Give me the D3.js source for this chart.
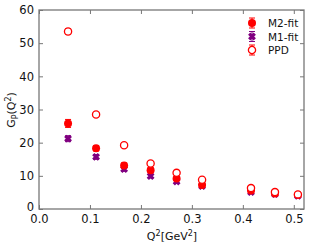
<!DOCTYPE html>
<html>
<head>
<meta charset="utf-8">
<script src="https://cdn.jsdelivr.net/npm/d3@7"></script>
<style>
  body { margin: 0; background: #fff; }
  text { font-family: "DejaVu Sans", sans-serif; }
</style>
</head>
<body>
<div id="chart"></div>
<script>
// data
var q2 = [0.057, 0.112, 0.167, 0.219, 0.270, 0.320, 0.416, 0.463, 0.508];
var m2Fit = [25.8, 18.3, 13.1, 11.7, 9.2, 7.2, 5.6, 4.7, 4.3];
var m2Err = [1.2, 0.8, 0.8, 0.8, 0.6, 0.5, 0.4, 0.3, 0.3];
var m1Fit = [21.2, 15.7, 12.0, 9.9, 8.3, 6.9, 5.1, 4.5, 4.0];
var m1Err = [0.9, 0.7, 0.6, 0.5, 0.5, 0.4, 0.3, 0.3, 0.3];
var ppd = [53.5, 28.5, 19.2, 13.7, 10.9, 8.8, 6.3, 5.1, 4.4];
var ppdErr = [0.9, 0.5, 0.4, 0.3, 0.3, 0.3, 0.2, 0.2, 0.2];
var xTicks = [0.0, 0.1, 0.2, 0.3, 0.4, 0.5];
var yTicks = [0, 10, 20, 30, 40, 50, 60];
var legendNames = ["M2-fit", "M1-fit", "PPD"];

var svgWidth = 309;
var svgHeight = 245;
var margin = { top: 10, right: 5, bottom: 36, left: 39 };
var width = svgWidth - margin.left - margin.right;
var height = svgHeight - margin.top - margin.bottom;

var svg = d3.select("#chart")
  .append("svg")
  .attr("width", svgWidth)
  .attr("height", svgHeight);

var chartGroup = svg.append("g")
  .attr("transform", `translate(${margin.left}, ${margin.top})`);

var x = d3.scaleLinear().domain([0, 0.52]).range([0, width]);
var y = d3.scaleLinear().domain([0, 60]).range([height, 0]);

var axisColor = "#777";

// axes, ticks pointing inward
var bottomAxis = d3.axisBottom(x).tickValues(xTicks).tickFormat(d3.format(".1f")).tickSizeInner(-4).tickSizeOuter(0).tickPadding(6);
var leftAxis = d3.axisLeft(y).tickValues(yTicks).tickSizeInner(-4).tickSizeOuter(0).tickPadding(5);
var topAxis = d3.axisTop(x).tickValues(xTicks).tickFormat("").tickSizeInner(-4).tickSizeOuter(0);
var rightAxis = d3.axisRight(y).tickValues(yTicks).tickFormat("").tickSizeInner(-4).tickSizeOuter(0);

function styleAxis(g) {
  g.select(".domain").remove();
  g.selectAll(".tick line").attr("stroke", axisColor);
  g.selectAll(".tick text").attr("fill", "#111").style("font-size", "11.5px");
}

chartGroup.append("g").attr("transform", `translate(0, ${height})`).call(bottomAxis).call(styleAxis);
chartGroup.append("g").call(leftAxis).call(styleAxis);
chartGroup.append("g").call(topAxis).call(styleAxis);
chartGroup.append("g").attr("transform", `translate(${width}, 0)`).call(rightAxis).call(styleAxis);

// lift the y "0" a bit so it clears the x "0.0"
chartGroup.selectAll(".tick text").filter(d => d === 0 && this).each(function(d) {
  var t = d3.select(this);
  if (t.attr("x") !== null && +t.attr("x") < 0) t.attr("dy", "0.1em");
});

chartGroup.append("rect")
  .attr("width", width)
  .attr("height", height)
  .attr("fill", "none")
  .attr("stroke", axisColor)
  .attr("stroke-width", 1.3);

// error bars
function errorBars(vals, errs, color) {
  var g = chartGroup.append("g");
  q2.forEach(function(q, i) {
    var cx = x(q);
    var y0 = y(vals[i] - errs[i]);
    var y1 = y(vals[i] + errs[i]);
    g.append("line").attr("x1", cx).attr("x2", cx).attr("y1", y0).attr("y2", y1).attr("stroke", color);
    g.append("line").attr("x1", cx - 3).attr("x2", cx + 3).attr("y1", y0).attr("y2", y0).attr("stroke", color);
    g.append("line").attr("x1", cx - 3).attr("x2", cx + 3).attr("y1", y1).attr("y2", y1).attr("stroke", color);
  });
}

errorBars(m1Fit, m1Err, "purple");
errorBars(m2Fit, m2Err, "red");
errorBars(ppd, ppdErr, "red");

var xSymbol = d3.symbol().type(d3.symbolX).size(22);

chartGroup.append("g").selectAll("path")
  .data(m1Fit)
  .enter()
  .append("path")
  .attr("d", xSymbol)
  .attr("transform", (d, i) => `translate(${x(q2[i])}, ${y(d)})`)
  .attr("fill", "purple")
  .attr("stroke", "purple")
  .attr("stroke-width", 3.2);

chartGroup.append("g").selectAll("circle")
  .data(m2Fit)
  .enter()
  .append("circle")
  .attr("cx", (d, i) => x(q2[i]))
  .attr("cy", d => y(d))
  .attr("r", 4)
  .attr("fill", "red");

chartGroup.append("g").selectAll("circle")
  .data(ppd)
  .enter()
  .append("circle")
  .attr("cx", (d, i) => x(q2[i]))
  .attr("cy", d => y(d))
  .attr("r", 3.6)
  .attr("fill", "white")
  .attr("stroke", "red")
  .attr("stroke-width", 1.3);

// legend
var legend = svg.append("g").attr("transform", "translate(252, 23)");
legendNames.forEach(function(name, i) {
  var row = legend.append("g").attr("transform", `translate(0, ${i * 13.5})`);
  var color = i === 1 ? "purple" : "red";
  row.append("line").attr("x1", 0).attr("x2", 0).attr("y1", -5).attr("y2", 5).attr("stroke", color);
  row.append("line").attr("x1", -3).attr("x2", 3).attr("y1", -5).attr("y2", -5).attr("stroke", color);
  row.append("line").attr("x1", -3).attr("x2", 3).attr("y1", 5).attr("y2", 5).attr("stroke", color);
  if (i === 0) {
    row.append("circle").attr("r", 4).attr("fill", "red");
  } else if (i === 1) {
    row.append("path").attr("d", xSymbol).attr("fill", "purple").attr("stroke", "purple").attr("stroke-width", 3.2);
  } else {
    row.append("circle").attr("r", 3.6).attr("fill", "white").attr("stroke", "red").attr("stroke-width", 1.3);
  }
  row.append("text")
    .attr("x", 16)
    .attr("y", 4)
    .style("font-size", "10.5px")
    .attr("fill", "#111")
    .text(name);
});

// axis labels
var yLabel = svg.append("text")
  .attr("transform", "translate(15, 110) rotate(-90)")
  .attr("text-anchor", "middle")
  .style("font-size", "11px")
  .attr("fill", "#111");
yLabel.append("tspan").text("G");
yLabel.append("tspan").attr("dy", 3).style("font-size", "8px").text("P");
yLabel.append("tspan").attr("dy", -3).text("(Q");
yLabel.append("tspan").attr("dy", -4).style("font-size", "8px").text("2");
yLabel.append("tspan").attr("dy", 4).text(")");

var xLabel = svg.append("text")
  .attr("x", 172)
  .attr("y", 240)
  .attr("text-anchor", "middle")
  .style("font-size", "11px")
  .attr("fill", "#111");
xLabel.append("tspan").text("Q");
xLabel.append("tspan").attr("dy", -4).style("font-size", "8px").text("2");
xLabel.append("tspan").attr("dy", 4).text("[GeV");
xLabel.append("tspan").attr("dy", -4).style("font-size", "8px").text("2");
xLabel.append("tspan").attr("dy", 4).text("]");
</script>
</body>
</html>
